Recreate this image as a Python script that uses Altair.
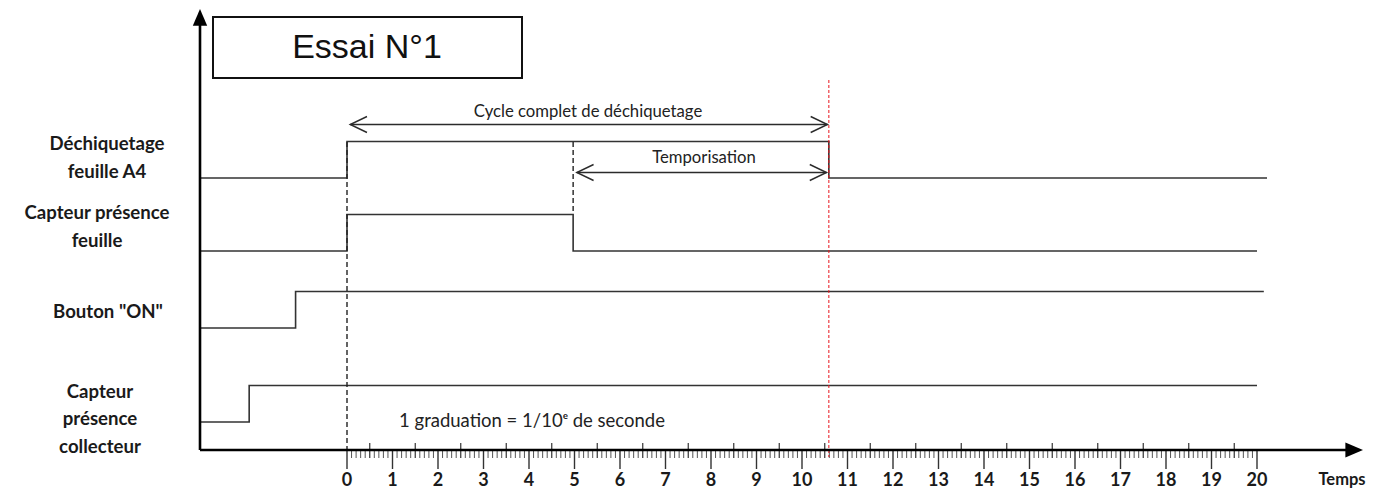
import altair as alt
import pandas as pd

# ---------------- data ----------------
signal_names = ["Déchiquetage feuille A4", "Capteur présence feuille",
                "Bouton \"ON\"", "Capteur présence collecteur"]
# transition times (s) and logic levels (step-after)
dech_t = [-3.23, 0.0, 10.59, 20.22]
dech_v = [0, 1, 0, 0]
feuille_t = [-3.23, 0.0, 4.97, 20.0]
feuille_v = [0, 1, 0, 0]
bouton_t = [-3.23, -1.13, 20.15]
bouton_v = [0, 1, 1]
collect_t = [-3.23, -2.15, 20.0]
collect_v = [0, 1, 1]

tick_labels = list(range(0, 21))
graduation = 0.1
cycle_span = [0.0, 10.59]
tempo_span = [4.97, 10.59]
title_text = "Essai N°1"
cycle_text = "Cycle complet de déchiquetage"
tempo_text = "Temporisation"
grad_text = "1 graduation = 1/10ᵉ de seconde"
axis_title = "Temps"
label_lines = [["Déchiquetage", "feuille A4"], ["Capteur présence", "feuille"],
               ["Bouton \"ON\""], ["Capteur", "présence", "collecteur"]]

# ---------------- layout (positions / styles) ----------------
PX = 45.5            # pixels per second
T0_PAGE = 347        # page x of t=0
W, H = 1360, 442
tmin = (8 - T0_PAGE) / PX
tmax = tmin + W / PX
xs = alt.Scale(domain=[tmin, tmax], nice=False, zero=False)
ys = alt.Scale(domain=[8, 8 + H], nice=False, zero=False, reverse=True)

def tp(px):
    return (px - T0_PAGE) / PX

lane_low = [178, 251, 328, 422]
AMP = 36.5
Y_AXIS_T = tp(200)
X_AXIS_Y = 450
label_cx = [107, 97, 108, 100]
label_y = [[144, 171.5], [213, 241], [312], [391.5, 419, 447]]
LINE = "#2b2b2b"
FONT = "Lato"
HEAD = 256

X = lambda f: alt.X(f, type="quantitative", scale=xs, axis=None)
Y = lambda f: alt.Y(f, type="quantitative", scale=ys, axis=None)

# ---------------- signals ----------------
rows = []
for name, ts, vs, low in zip(signal_names,
                             [dech_t, feuille_t, bouton_t, collect_t],
                             [dech_v, feuille_v, bouton_v, collect_v],
                             lane_low):
    for t, v in zip(ts, vs):
        rows.append({"signal": name, "t": t, "y": low - v * AMP})
sig = pd.DataFrame(rows)

signals = alt.Chart(sig).mark_line(interpolate="step-after", color="#333",
                                   strokeWidth=1.6).encode(
    x=X("t"), y=Y("y"), detail="signal:N")

# ---------------- graduation ticks ----------------
minor_t = [k + j * graduation for k in tick_labels[:-1] for j in range(1, 10) if j != 5]
minor = pd.DataFrame({"t": minor_t, "y1": [X_AXIS_Y] * len(minor_t), "y2": [X_AXIS_Y + 8] * len(minor_t)})
half_t = [k + 0.5 for k in tick_labels[:-1]]
half = pd.DataFrame({"t": half_t, "y1": [X_AXIS_Y - 7] * len(half_t), "y2": [X_AXIS_Y + 8] * len(half_t)})
major = pd.DataFrame({"t": tick_labels, "y1": [X_AXIS_Y] * len(tick_labels),
                      "y2": [X_AXIS_Y + 19] * len(tick_labels),
                      "ly": [481] * len(tick_labels),
                      "lab": [str(v) for v in tick_labels]})
minor_ticks = alt.Chart(minor).mark_rule(color="#555", strokeWidth=1).encode(
    x=X("t"), y=Y("y1"), y2="y2")
half_ticks = alt.Chart(half).mark_rule(color="#333", strokeWidth=1.2).encode(
    x=X("t"), y=Y("y1"), y2="y2")
major_ticks = alt.Chart(major).mark_rule(color="#333", strokeWidth=1.4).encode(
    x=X("t"), y=Y("y1"), y2="y2")
major_labels = alt.Chart(major).mark_text(font=FONT, fontWeight="bold", fontSize=18,
                                          color="#1a1a1a", align="center", baseline="middle").encode(
    x=X("t"), y=Y("ly"), text="lab:N")

# ---------------- axes lines + arrowheads ----------------
axes_df = pd.DataFrame({"x1": [Y_AXIS_T, Y_AXIS_T], "x2": [tp(1350), Y_AXIS_T],
                        "y1": [X_AXIS_Y, X_AXIS_Y], "y2": [X_AXIS_Y, 22]})
axes_lines = alt.Chart(axes_df).mark_rule(color="black", strokeWidth=2.6).encode(
    x=X("x1"), x2="x2", y=Y("y1"), y2="y2")
arrow_x = alt.Chart(pd.DataFrame({"t": [tp(1363)], "y": [X_AXIS_Y]})).mark_point(
    shape="M0,0L-2.2,-0.95L-2.2,0.95Z", size=HEAD, filled=True, color="black", opacity=1).encode(
    x=X("t"), y=Y("y"))
arrow_y = alt.Chart(pd.DataFrame({"t": [Y_AXIS_T], "y": [9]})).mark_point(
    shape="M0,0L-0.9,2.1L0.9,2.1Z", size=HEAD, filled=True, color="black", opacity=1).encode(
    x=X("t"), y=Y("y"))

# ---------------- vertical markers ----------------
dash_df = pd.DataFrame({"t": [cycle_span[0], tempo_span[0]], "y1": [142, 142], "y2": [X_AXIS_Y, 212]})
dashes = alt.Chart(dash_df).mark_rule(color="#222", strokeWidth=1.4, strokeDash=[5, 3]).encode(
    x=X("t"), y=Y("y1"), y2="y2")
red = alt.Chart(pd.DataFrame({"t": [cycle_span[1]], "y1": [80], "y2": [457]})).mark_rule(
    color="#e8141c", strokeWidth=1, strokeDash=[3, 2]).encode(
    x=X("t"), y=Y("y1"), y2="y2")

# ---------------- double arrows ----------------
span_df = pd.DataFrame({"a": [cycle_span[0] + 0.07, tempo_span[0] + 0.08],
                        "b": [cycle_span[1] - 0.03, cycle_span[1] - 0.05],
                        "y": [124.5, 172.5]})
span_lines = alt.Chart(span_df).mark_rule(color=LINE, strokeWidth=1.4).encode(
    x=X("a"), x2="b", y=Y("y"))
heads_l = alt.Chart(span_df).mark_point(shape="M2.1,-1L0,0L2.1,1", size=HEAD, filled=False,
                                        color=LINE, strokeWidth=1.4, opacity=1).encode(
    x=X("a"), y=Y("y"))
heads_r = alt.Chart(span_df).mark_point(shape="M-2.1,-1L0,0L-2.1,1", size=HEAD, filled=False,
                                        color=LINE, strokeWidth=1.4, opacity=1).encode(
    x=X("b"), y=Y("y"))

# ---------------- texts ----------------
ann_df = pd.DataFrame({"t": [tp(588), tp(704)], "y": [112, 157.5],
                       "txt": [cycle_text, tempo_text]})
ann = alt.Chart(ann_df).mark_text(font=FONT, fontSize=16.7, color="#222", baseline="middle",
                                  align="center").encode(
    x=X("t"), y=Y("y"), text="txt:N")
grad = alt.Chart(pd.DataFrame({"t": [tp(532)], "y": [421], "txt": [grad_text]})).mark_text(
    font=FONT, fontSize=18.5, color="#222", baseline="middle", align="center").encode(
    x=X("t"), y=Y("y"), text="txt:N")

lab_rows = []
for lines, ypos, cx in zip(label_lines, label_y, label_cx):
    for ln, yy in zip(lines, ypos):
        lab_rows.append({"t": tp(cx), "y": yy, "txt": ln})
labels = alt.Chart(pd.DataFrame(lab_rows)).mark_text(
    font=FONT, fontWeight="bold", fontSize=18.6, color="#1a1a1a", align="center", baseline="middle").encode(
    x=X("t"), y=Y("y"), text="txt:N")

temps = alt.Chart(pd.DataFrame({"t": [tp(1342)], "y": [480], "txt": [axis_title]})).mark_text(
    font=FONT, fontWeight="bold", fontSize=16.5, color="#1a1a1a", align="center", baseline="middle").encode(
    x=X("t"), y=Y("y"), text="txt:N")

box = alt.Chart(pd.DataFrame({"a": [tp(213)], "b": [tp(522)], "y1": [17], "y2": [78]})).mark_rect(
    fill="white", stroke="#111", strokeWidth=2).encode(
    x=X("a"), x2="b", y=Y("y1"), y2="y2")
title = alt.Chart(pd.DataFrame({"t": [tp(367)], "y": [48], "txt": [title_text]})).mark_text(
    font="Liberation Sans", fontSize=34, color="#111", align="center", baseline="middle").encode(
    x=X("t"), y=Y("y"), text="txt:N")

chart = alt.layer(
    signals, minor_ticks, half_ticks, major_ticks, major_labels, dashes, red, axes_lines,
    arrow_x, arrow_y, span_lines, heads_l, heads_r, ann, grad, labels, temps, box, title
).properties(
    width=W, height=H,
    autosize=alt.AutoSizeParams(type="none"),
    padding={"left": 0, "top": 0, "right": 0, "bottom": 42},
    background="white",
).configure_view(stroke=None)

chart.save("out.html", embed_options={"renderer": "svg", "actions": False})
